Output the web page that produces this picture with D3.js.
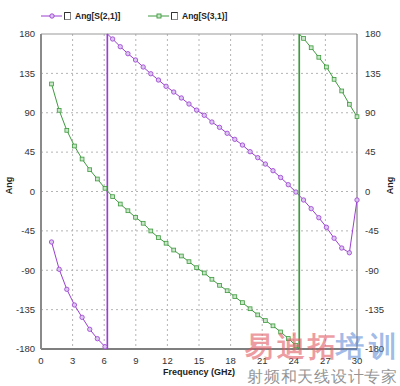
<!DOCTYPE html>
<html>
<head>
<meta charset="utf-8">
<script src="https://cdn.jsdelivr.net/npm/d3@7"></script>
<style>
  body { margin: 0; background: #fff; }
  text { font-family: "Liberation Sans", Arial, sans-serif; }
</style>
</head>
<body>
<script>
// frequency sweep 1..30 GHz, 41 points
const freq = d3.range(41).map(k => 1 + 0.725 * k);

const angS21 = [-57.7, -88.9, -111.8, -129.7, -143.8, -157.5, -168.2, -177.4,
  174.3, 165.5, 157.5, 150.3, 142.3, 134.6, 127.4, 120.2, 113.7, 106.9, 100, 93,
  87.1, 79.4, 73.3, 66.5, 59.6, 53.1, 45.5, 38.7, 31.4, 23.8, 16.0, 7.8, -0.6,
  -9.7, -19.6, -29.9, -40.9, -53.4, -64.6, -70, -9.7];

const angS31 = [122.9, 92.8, 69.9, 52, 37.1, 24.9, 14.3, 3.7, -5.9, -14.3,
  -22, -29.5, -36.3, -45.1, -52.7, -59.1, -66.9, -73.7, -80.2, -87.1, -93.1,
  -100.3, -107.2, -113.4, -120.2, -127, -134, -141, -147.5, -153.5, -160.5,
  -168, -176, 175, 164.3, 153.4, 142.3, 128.2, 114.9, 99.7, 85.5];

const xTicks = [0, 3, 6, 9, 12, 15, 18, 21, 24, 27, 30];
const yTicks = [-180, -135, -90, -45, 0, 45, 90, 135, 180];

const series = [
  {name: "Ang[S(2,1)]", values: angS21, color: "#9a3fd0", fill: "#dcc6f0", marker: "circle"},
  {name: "Ang[S(3,1)]", values: angS31, color: "#3f9a3f", fill: "#c8e6c8", marker: "square"}
];

const width = 400, height = 386;
const margin = {top: 34, right: 43, bottom: 37, left: 41};

const x = d3.scaleLinear().domain([0, 30]).range([margin.left, width - margin.right]);
const y = d3.scaleLinear().domain([-180, 180]).range([height - margin.bottom, margin.top]);

const svg = d3.select("body").append("svg")
    .attr("width", width)
    .attr("height", height);

// grid
svg.append("g")
  .selectAll("line")
  .data(xTicks.slice(1, -1))
  .join("line")
    .attr("x1", d => x(d)).attr("x2", d => x(d))
    .attr("y1", y(180)).attr("y2", y(-180))
    .attr("stroke", "#b4b4b4")
    .attr("stroke-dasharray", "2,3");

svg.append("g")
  .selectAll("line")
  .data(yTicks.slice(1, -1))
  .join("line")
    .attr("x1", x(0)).attr("x2", x(30))
    .attr("y1", d => y(d)).attr("y2", d => y(d))
    .attr("stroke", "#b4b4b4")
    .attr("stroke-dasharray", "2,3");

// frame
svg.append("line").attr("x1", x(0)).attr("x2", x(30)).attr("y1", y(180)).attr("y2", y(180))
    .attr("stroke", "#999");
svg.append("line").attr("x1", x(0)).attr("x2", x(30)).attr("y1", y(-180)).attr("y2", y(-180))
    .attr("stroke", "#555").attr("stroke-width", 1.5);
svg.append("line").attr("x1", x(0)).attr("x2", x(0)).attr("y1", y(180)).attr("y2", y(-180))
    .attr("stroke", "#8a8a8a").attr("stroke-width", 2);
svg.append("line").attr("x1", x(30)).attr("x2", x(30)).attr("y1", y(180)).attr("y2", y(-180))
    .attr("stroke", "#666").attr("stroke-width", 1);

// axes labels
const tickStyle = g => g.attr("font-size", 9.5).attr("fill", "#333");

svg.append("g").call(tickStyle)
  .selectAll("text").data(yTicks).join("text")
    .attr("x", x(0) - 6).attr("y", d => y(d)).attr("dy", "0.35em")
    .attr("text-anchor", "end").text(d => d);

svg.append("g").call(tickStyle)
  .selectAll("text").data(yTicks).join("text")
    .attr("x", x(30) + 8).attr("y", d => y(d)).attr("dy", "0.35em")
    .attr("text-anchor", "start").text(d => d);

svg.append("g").call(tickStyle)
  .selectAll("text").data(xTicks).join("text")
    .attr("x", d => x(d)).attr("y", y(-180) + 15)
    .attr("text-anchor", "middle").text(d => d);

svg.append("text")
    .attr("x", 199).attr("y", 375)
    .attr("text-anchor", "middle")
    .attr("font-size", 9).attr("font-weight", "bold").attr("fill", "#222")
    .text("Frequency (GHz)");

[12, 393].forEach(px => {
  svg.append("text")
      .attr("transform", `translate(${px},${y(7)}) rotate(-90)`)
      .attr("text-anchor", "middle")
      .attr("font-size", 9).attr("font-weight", "bold").attr("fill", "#222")
      .text("Ang");
});

// build path points with phase wrap at +-180, also collect the jump lines
function wrapPoints(vals) {
  const pts = [[freq[0], vals[0]]], jumps = [];
  for (let i = 1; i < vals.length; i++) {
    const a = vals[i - 1], b = vals[i];
    if (Math.abs(b - a) > 180) {
      const edge = a < 0 ? -180 : 180;
      const bu = b + (a < 0 ? -360 : 360);
      const t = (edge - a) / (bu - a);
      const fc = freq[i - 1] + t * (freq[i] - freq[i - 1]);
      pts.push([fc, edge], [fc, -edge]);
      jumps.push(fc);
    }
    pts.push([freq[i], b]);
  }
  return {pts, jumps};
}

const line = d3.line().x(d => x(d[0])).y(d => y(d[1]));

series.forEach(s => {
  const g = svg.append("g");
  const w = wrapPoints(s.values);
  g.append("path")
      .attr("d", line(w.pts))
      .attr("fill", "none")
      .attr("stroke", s.color)
      .attr("stroke-width", 1);

  g.selectAll("line.jump").data(w.jumps).join("line")
      .attr("class", "jump")
      .attr("x1", d => x(d)).attr("x2", d => x(d))
      .attr("y1", y(180)).attr("y2", y(-180))
      .attr("stroke", s.color).attr("stroke-width", 1.6);

  const pts = s.values.map((v, i) => [freq[i], v]);
  if (s.marker === "circle") {
    g.selectAll("circle").data(pts).join("circle")
        .attr("cx", d => x(d[0])).attr("cy", d => y(d[1])).attr("r", 2.2)
        .attr("fill", s.fill).attr("stroke", s.color).attr("stroke-width", 0.8);
  } else {
    g.selectAll("rect").data(pts).join("rect")
        .attr("x", d => x(d[0]) - 1.9).attr("y", d => y(d[1]) - 1.9)
        .attr("width", 3.8).attr("height", 3.8)
        .attr("fill", s.fill).attr("stroke", s.color).attr("stroke-width", 0.8);
  }
});

// legend
const legend = svg.append("g").attr("transform", "translate(41,16)");
series.forEach((s, i) => {
  const lg = legend.append("g").attr("transform", `translate(${i * 107},0)`);
  lg.append("line").attr("x1", 0).attr("x2", 21).attr("stroke", s.color);
  if (s.marker === "circle") {
    lg.append("circle").attr("cx", 11).attr("r", 2.2)
        .attr("fill", s.fill).attr("stroke", s.color).attr("stroke-width", 0.9);
  } else {
    lg.append("rect").attr("x", 9).attr("y", -2).attr("width", 4).attr("height", 4)
        .attr("fill", s.fill).attr("stroke", s.color).attr("stroke-width", 0.9);
  }
  lg.append("rect").attr("x", 23.5).attr("y", -3.5).attr("width", 6).attr("height", 7)
      .attr("fill", "#fff").attr("stroke", "#888");
  lg.append("path").attr("d", "M23.5,3.5V-3.5H29.5").attr("fill", "none").attr("stroke", "#333");
  lg.append("text").attr("x", 34).attr("dy", "0.35em")
      .attr("font-size", 8.5).attr("font-weight", "bold").attr("fill", "#222")
      .text(s.name);
});

// watermark
const wm = svg.append("g").attr("font-family", "'Noto Sans CJK SC', sans-serif");
const wmTop = [["易迪拓", "rgba(225,90,100,0.6)"], ["培训", "rgba(80,130,210,0.55)"]];
let wx = 245;
wmTop.forEach(([t, c]) => {
  wm.append("text").attr("x", wx).attr("y", 356)
      .attr("font-size", 28).attr("font-weight", "bold").attr("fill", c)
      .attr("textLength", t.length * 30.4).text(t);
  wx += t.length * 30.4;
});
wm.append("text").attr("x", 247).attr("y", 382)
    .attr("font-size", 16).attr("fill", "rgba(120,120,120,0.8)")
    .attr("textLength", 150).text("射频和天线设计专家");
</script>
</body>
</html>
